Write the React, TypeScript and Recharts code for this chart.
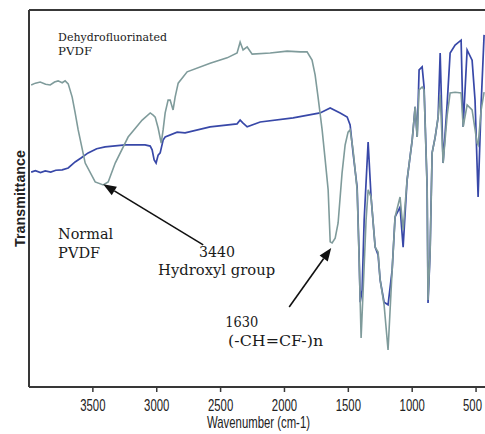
import React from 'react';
import { LineChart, Line, XAxis, YAxis, ReferenceLine, ReferenceDot } from 'recharts';

// Dehydrofluorinated PVDF (grey trace)
const dehydroWn = [3983, 3950, 3912, 3870, 3834, 3800, 3772, 3740, 3717, 3693, 3662, 3640, 3615, 3560, 3482, 3419, 3380, 3325, 3224, 3114, 3051, 3028, 3012, 2989, 2965, 2950, 2934, 2911, 2895, 2872, 2856, 2832, 2762, 2582, 2449, 2371, 2355, 2347, 2324, 2292, 2253, 2112, 1979, 1877, 1823, 1784, 1760, 1737, 1705, 1681, 1658, 1642, 1627, 1603, 1580, 1549, 1525, 1502, 1486, 1463, 1431, 1416, 1400, 1384, 1361, 1345, 1322, 1290, 1267, 1251, 1220, 1189, 1157, 1134, 1095, 1071, 1040, 1000, 977, 961, 946, 922, 907, 883, 876, 860, 844, 820, 797, 781, 758, 726, 703, 664, 617, 601, 570, 531, 492, 484, 460, 437];
const dehydroT = [80.1, 80.6, 80.9, 80.3, 80.1, 80.9, 81.2, 80.7, 81.2, 80.4, 76.9, 73.0, 68.2, 59.4, 54.4, 53.6, 54.4, 59.4, 66.3, 70.8, 72.7, 72.1, 71.6, 68.7, 64.7, 68.2, 72.7, 76.1, 76.1, 73.5, 76.9, 80.6, 83.6, 85.9, 87.3, 88.6, 90.5, 91.5, 89.4, 90.2, 88.3, 88.6, 89.1, 88.9, 88.9, 86.7, 82.8, 76.9, 68.2, 60.2, 52.3, 38.5, 38.2, 39.5, 43.5, 56.8, 64.2, 67.6, 68.2, 62.9, 52.3, 34.5, 13.0, 25.7, 44.3, 52.3, 50.4, 37.1, 35.8, 28.4, 21.8, 9.8, 31.0, 45.1, 50.4, 41.6, 54.9, 65.5, 74.3, 66.3, 78.8, 79.6, 78.8, 53.0, 23.1, 35.5, 62.1, 66.3, 71.6, 77.5, 59.4, 72.1, 78.0, 78.2, 78.0, 69.0, 74.8, 73.5, 64.7, 64.2, 73.5, 78.2];

// Normal PVDF (blue trace)
const normalWn = [3983, 3950, 3910, 3873, 3830, 3790, 3740, 3693, 3639, 3590, 3537, 3470, 3404, 3247, 3091, 3051, 3036, 3020, 3005, 2989, 2973, 2950, 2934, 2840, 2778, 2582, 2371, 2347, 2324, 2292, 2190, 1932, 1721, 1642, 1564, 1509, 1486, 1463, 1431, 1416, 1407, 1392, 1376, 1345, 1322, 1290, 1267, 1251, 1220, 1189, 1157, 1134, 1095, 1071, 1040, 1000, 977, 961, 946, 922, 907, 883, 876, 860, 844, 820, 797, 781, 758, 726, 703, 664, 617, 601, 570, 531, 508, 484, 460, 437];
const normalT = [57.0, 57.4, 56.9, 57.3, 57.0, 57.5, 57.6, 58.1, 59.7, 60.8, 62.1, 63.2, 63.7, 64.2, 64.2, 63.9, 62.9, 60.2, 59.4, 61.5, 62.1, 65.5, 66.3, 67.6, 67.4, 69.0, 69.8, 70.8, 70.0, 69.0, 70.3, 71.4, 72.7, 74.0, 72.7, 71.6, 69.5, 62.1, 53.0, 35.5, 22.5, 25.7, 44.3, 65.0, 50.4, 37.1, 35.0, 28.4, 22.5, 21.8, 31.0, 45.1, 47.7, 37.1, 54.9, 65.5, 74.3, 66.3, 84.1, 84.9, 79.6, 53.0, 22.3, 35.5, 62.1, 66.3, 71.6, 88.6, 59.4, 75.3, 88.6, 90.7, 92.0, 69.0, 89.4, 86.7, 76.1, 50.4, 75.3, 93.4];

const xTicks = [3500, 3000, 2500, 2000, 1500, 1000, 500];
const xDomain = [430, 4000];
const yDomain = [0, 100];
const xTitle = 'Wavenumber (cm-1)';
const yTitle = 'Transmittance';

// annotation texts, anchored at (wavenumber, transmittance)
const noteText = ['Dehydrofluorinated', 'PVDF', 'Normal', 'PVDF', '3440', 'Hydroxyl group', '1630', '(-CH=CF-)n'];
const noteWn = [3772, 3772, 3772, 3772, 2668, 2989, 2464, 2441];
const noteT = [91.8, 88.1, 39.3, 34.2, 34.5, 29.7, 15.9, 10.9];
const noteSize = [11.5, 11.5, 14, 14, 14, 14, 14, 14];
const noteLen = [109, 34, 55, 42, 36, 117, 33, 95];

// arrows: tail -> tip
const arrowFromWn = [2636, 1963];
const arrowFromT = [37.7, 21.2];
const arrowToWn = [3419, 1634];
const arrowToT = [53.8, 36.9];

const dehydroData = dehydroWn.map((wn, i) => ({ wn, t: dehydroT[i] }));
const normalData = normalWn.map((wn, i) => ({ wn, t: normalT[i] }));

const AXIS = '#383838';
const CHART_W = 485;
const SQUASH = 0.71; // axis lettering is horizontally condensed

const Tick = (p: any) => {
  const s = String(p.payload.value);
  const len = s.length * 8.9 * SQUASH;
  // keep the last label inside the picture
  const overflow = p.x + len / 2 - (CHART_W - 3);
  const x = overflow > 0 ? p.x - overflow : p.x;
  return (
    <text
      x={0}
      y={0}
      transform={`translate(${x}, ${p.y + 17}) scale(${SQUASH}, 1)`}
      textAnchor="middle"
      fontFamily="'Liberation Sans', Arial, sans-serif"
      fontSize={16}
      fill="#222"
    >
      {s}
    </text>
  );
};

const Arrow = (p: any) => {
  const { x1, y1, x2, y2 } = p;
  if ([x1, y1, x2, y2].some((v) => typeof v !== 'number' || isNaN(v))) return null;
  const ang = Math.atan2(y2 - y1, x2 - x1);
  const L = 13;
  const W = 5;
  const bx = x2 - L * Math.cos(ang);
  const by = y2 - L * Math.sin(ang);
  const px = -Math.sin(ang) * W;
  const py = Math.cos(ang) * W;
  return (
    <g>
      <line x1={x1} y1={y1} x2={bx} y2={by} stroke="#111" strokeWidth={1.6} />
      <polygon points={`${x2},${y2} ${bx + px},${by + py} ${bx - px},${by - py}`} fill="#111" />
    </g>
  );
};

const makeNote = (i: number) => (p: any) => (
  <text
    x={p.cx}
    y={p.cy}
    fontFamily="'DejaVu Serif', 'Liberation Serif', serif"
    fontSize={noteSize[i]}
    textLength={noteLen[i]}
    lengthAdjust="spacingAndGlyphs"
    fill="#1a1a1a"
  >
    {noteText[i]}
  </text>
);

const XTitle = (p: any) => {
  const vb = p.viewBox;
  const x = vb.x + vb.width / 2 + 1.5;
  const y = vb.y + 41;
  return (
    <text
      x={0}
      y={0}
      transform={`translate(${x}, ${y}) scale(${SQUASH}, 1)`}
      textAnchor="middle"
      fontFamily="'Liberation Sans', Arial, sans-serif"
      fontSize={16}
      fill="#222"
    >
      {xTitle}
    </text>
  );
};

const YTitle = (p: any) => {
  const vb = p.viewBox;
  const x = vb.x + 25;
  const y = vb.y + vb.height / 2;
  return (
    <text
      x={x}
      y={y}
      transform={`rotate(-90, ${x}, ${y})`}
      textAnchor="middle"
      fontFamily="'Liberation Sans', Arial, sans-serif"
      fontWeight="bold"
      fontSize={15}
      textLength={97}
      lengthAdjust="spacingAndGlyphs"
      fill="#222"
    >
      {yTitle}
    </text>
  );
};

export default function App() {
  return (
    <div style={{ position: 'absolute', left: 0, top: 0, width: 485, height: 434, background: '#fff' }}>
      <LineChart width={CHART_W} height={434} margin={{ top: 10, right: 0, bottom: 17, left: 0 }}>
        <XAxis
          type="number"
          dataKey="wn"
          domain={xDomain}
          reversed
          ticks={xTicks}
          tick={<Tick />}
          tickSize={5}
          tickMargin={2}
          height={30}
          axisLine={{ stroke: AXIS, strokeWidth: 2 }}
          tickLine={{ stroke: AXIS, strokeWidth: 1.5 }}
          allowDataOverflow
          label={{ content: <XTitle /> } as any}
        />
        <YAxis
          type="number"
          domain={yDomain}
          width={29}
          tick={false}
          tickLine={false}
          axisLine={{ stroke: AXIS, strokeWidth: 2 }}
          allowDataOverflow
          label={{ content: <YTitle /> } as any}
        />
        <ReferenceLine y={100} stroke={AXIS} strokeWidth={2} />
        <Line
          data={normalData}
          dataKey="t"
          type="linear"
          stroke="#3848a8"
          strokeWidth={1.7}
          dot={false}
          isAnimationActive={false}
        />
        <Line
          data={dehydroData}
          dataKey="t"
          type="linear"
          stroke="#7f9b9b"
          strokeWidth={1.6}
          dot={false}
          isAnimationActive={false}
        />
        {arrowFromWn.map((wn, i) => (
          <ReferenceLine
            key={'a' + i}
            segment={[
              { x: wn, y: arrowFromT[i] },
              { x: arrowToWn[i], y: arrowToT[i] },
            ]}
            shape={<Arrow />}
          />
        ))}
        {noteText.map((_, i) => (
          <ReferenceDot key={'n' + i} x={noteWn[i]} y={noteT[i]} r={1} shape={makeNote(i)} />
        ))}
      </LineChart>
    </div>
  );
}
